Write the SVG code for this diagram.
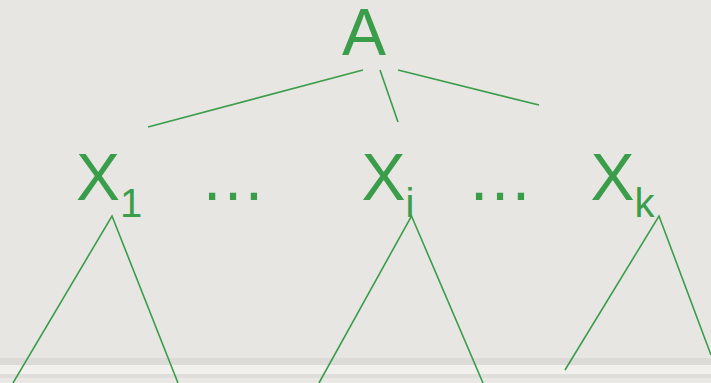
<svg xmlns="http://www.w3.org/2000/svg" width="711" height="383" viewBox="0 0 711 383">
  <style>
    .lbl { font-family: "Liberation Sans", Arial, sans-serif; fill: #3a9d4a; font-size: 66px; }
    .sub { font-size: 40px; }
    .edge { stroke: #3a9d4a; stroke-width: 1.6; fill: none; stroke-linecap: butt; }
  </style>
  <rect x="0" y="0" width="711" height="383" fill="#e7e6e3"/>
  <g id="bottom-band">
    <rect x="0" y="358" width="711" height="7" fill="#dcdbd8"/>
    <rect x="0" y="365" width="711" height="9" fill="#f1f0ed"/>
    <rect x="0" y="374" width="711" height="4" fill="#dfdedb"/>
    <rect x="0" y="378" width="711" height="5" fill="#e9e8e5"/>
  </g>
  <g id="connectors">
    <line class="edge" x1="363" y1="70" x2="148" y2="127"/>
    <line class="edge" x1="380" y1="70" x2="398" y2="122"/>
    <line class="edge" x1="398" y1="70" x2="539" y2="105"/>
    <polyline class="edge" points="13,383 112,216 178,383"/>
    <polyline class="edge" points="319,383 411.5,216 483,383"/>
    <polyline class="edge" points="565,370 659,216 711,355"/>
  </g>
  <g id="node-A">
    <text class="lbl" x="364" y="55" text-anchor="middle">A</text>
  </g>
  <g id="node-X1">
    <text class="lbl" x="76" y="200">X<tspan class="sub" dy="17">1</tspan></text>
  </g>
  <g id="dots-1">
    <text class="lbl" x="200" y="200">…</text>
  </g>
  <g id="node-Xi">
    <text class="lbl" x="361.5" y="200">X<tspan class="sub" dy="17">i</tspan></text>
  </g>
  <g id="dots-2">
    <text class="lbl" x="467" y="200">…</text>
  </g>
  <g id="node-Xk">
    <text class="lbl" x="590.5" y="200">X<tspan class="sub" dy="17">k</tspan></text>
  </g>
</svg>
